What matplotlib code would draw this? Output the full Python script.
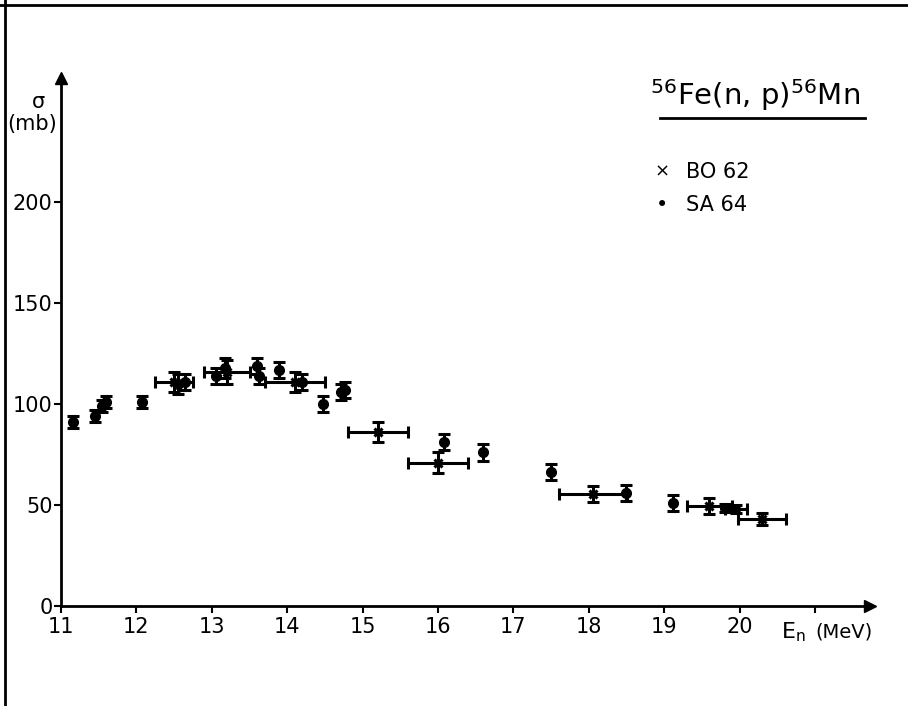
import matplotlib
matplotlib.use("Agg")
import matplotlib.pyplot as plt
from matplotlib.lines import Line2D

# ---- data ----
bo62_e = [12.5, 13.2, 14.1, 15.2, 16.0, 18.05, 19.6, 19.95, 20.3]
bo62_s = [111, 116, 111, 86, 71, 55.5, 49.5, 48, 43]
bo62_xerr = [0.25, 0.3, 0.4, 0.4, 0.4, 0.45, 0.3, 0.15, 0.32]
bo62_yerr = [5, 6, 5, 5, 5, 4, 4, 2, 3]

sa64_e = [11.16, 11.45, 11.55, 11.6, 12.07, 12.55, 12.65, 13.05, 13.18, 13.6, 13.62,
          13.89, 14.2, 14.47, 14.71, 14.76, 16.08, 16.6, 17.5, 18.49, 19.12, 19.8]
sa64_s = [91, 94, 99, 101, 101, 110, 111, 114, 118, 119, 114,
          117, 111, 100, 106, 107, 81, 76, 66.5, 56, 51, 48.5]
sa64_yerr = [3, 3, 3, 3, 3, 5, 4, 4, 5, 4, 4,
             4, 4, 4, 4, 4, 4, 4, 4, 4, 4, 2]

xticks = list(range(11, 22))
xticklabels = [str(v) for v in range(11, 21)] + [""]
yticks = [0, 50, 100, 150, 200]
yticklabels = ["0", "50", "100", "150", "200"]

# ---- figure ----
W, H = 908, 706
fig = plt.figure(figsize=(W / 100, H / 100), dpi=100)
ax = fig.add_axes([61 / W, (H - 606) / H, (870 - 61) / W, (606 - 78) / H])

ax.set_xlim(11, 11 + (870 - 61) / 75.4)
ax.set_ylim(0, (606 - 78) / 2.02)

for s in ["top", "right"]:
    ax.spines[s].set_visible(False)
for s in ["left", "bottom"]:
    ax.spines[s].set_linewidth(2.0)
    ax.spines[s].set_color("black")

ax.plot([0], [1], marker="^", ms=9, color="black", transform=ax.transAxes, clip_on=False)
ax.plot([1], [0], marker=">", ms=9, color="black", transform=ax.transAxes, clip_on=False)

ax.set_xticks(xticks)
ax.set_xticklabels(xticklabels, fontsize=15)
ax.set_yticks(yticks)
ax.set_yticklabels(yticklabels, fontsize=15)
ax.tick_params(axis="x", direction="out", length=5, width=1.5, pad=3)
ax.tick_params(axis="y", direction="out", length=5, width=1.5, pad=1)

ekw = dict(ecolor="black", elinewidth=2.2, capsize=4, capthick=2.2, linestyle="none")
ax.errorbar(bo62_e, bo62_s, xerr=bo62_xerr, yerr=bo62_yerr, fmt="x", color="black",
            ms=6, mew=2.2, **ekw)
ax.errorbar(sa64_e, sa64_s, yerr=sa64_yerr, fmt="o", color="black", ms=7, **ekw)

# axis labels
fig.text(793 / W, 1 - 632 / H, r"E$_\mathregular{n}$", fontsize=16, ha="center", va="center")
fig.text(844 / W, 1 - 632 / H, "(MeV)", fontsize=14, ha="center", va="center")
fig.text(38 / W, 1 - 102 / H, "σ", fontsize=15, ha="center", va="center")
fig.text(32 / W, 1 - 124 / H, "(mb)", fontsize=15, ha="center", va="center")

# title and legend
fig.text(755 / W, 1 - 95 / H, r"$^{\mathregular{56}}$Fe(n, p)$^{\mathregular{56}}$Mn",
         fontsize=21, ha="center", va="center")
fig.add_artist(Line2D([660 / W, 865 / W], [1 - 118 / H, 1 - 118 / H], color="black", lw=2,
                      transform=fig.transFigure))
fig.text(662 / W, 1 - 172 / H, "×", fontsize=13, ha="center", va="center")
fig.text(686 / W, 1 - 172 / H, "BO 62", fontsize=15, ha="left", va="center")
fig.text(662 / W, 1 - 205 / H, "•", fontsize=15, ha="center", va="center")
fig.text(686 / W, 1 - 205 / H, "SA 64", fontsize=15, ha="left", va="center")

# page border lines
fig.add_artist(Line2D([5 / W, 5 / W], [0, 1], color="black", lw=2, transform=fig.transFigure))
fig.add_artist(Line2D([0, 1], [1 - 5 / H, 1 - 5 / H], color="black", lw=2, transform=fig.transFigure))

fig.savefig("out.png", dpi=100)
